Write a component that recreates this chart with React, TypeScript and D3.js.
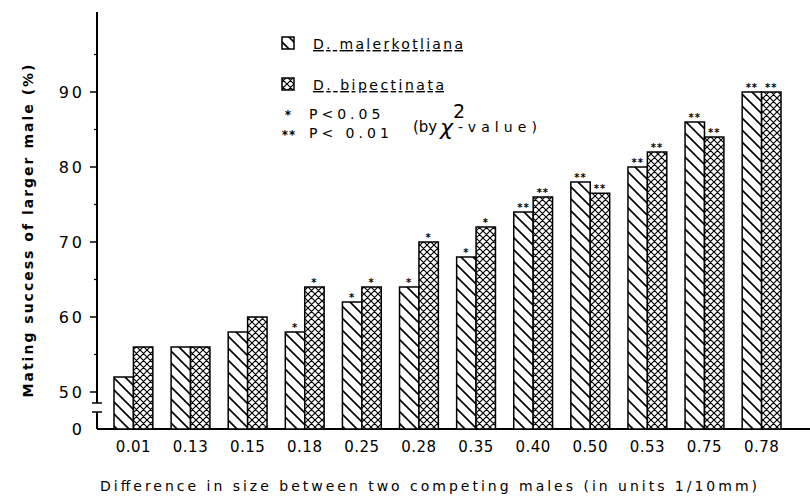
import React from 'react';
import { scaleBand, scaleLinear } from 'd3';

// size differences (1/10 mm)
const categories = ['0.01', '0.13', '0.15', '0.18', '0.25', '0.28', '0.35', '0.40', '0.50', '0.53', '0.75', '0.78'];
// mating success of larger male (%)
const malerkotliana = [52, 56, 58, 58, 62, 64, 68, 74, 78, 80, 86, 90];
const bipectinata = [56, 56, 60, 64, 64, 70, 72, 76, 76.5, 82, 84, 90];
// significance marks
const sigMaler = ['', '', '', '*', '*', '*', '*', '**', '**', '**', '**', '**'];
const sigBipec = ['', '', '', '*', '*', '*', '*', '**', '**', '**', '**', '**'];
const yTicks = [50, 60, 70, 80, 90];
const yMinor = [55, 65, 75, 85, 95];

const W = 810;
const H = 501;
const baseY = 429;
const axisX = 97;
const font = '"DejaVu Sans", sans-serif';

export default function App() {
  const x = scaleBand<string>().domain(categories).range([114, 781]).paddingInner(0.32).paddingOuter(0);
  const y = scaleLinear().domain([50, 90]).range([392, 92]);
  const bw = x.bandwidth() / 2;

  const series = [
    { values: malerkotliana, sig: sigMaler, fill: 'url(#hatch)', off: 0 },
    { values: bipectinata, sig: sigBipec, fill: 'url(#cross)', off: bw },
  ];

  return (
    <svg width={W} height={H} style={{ position: 'absolute', left: 0, top: 0, background: '#fff' }}>
      <defs>
        <pattern id="hatch" patternUnits="userSpaceOnUse" width={12} height={12}>
          <rect width={12} height={12} fill="#fff" />
          <path d="M0,0 L12,12 M-6,6 L6,18 M6,-6 L18,6" stroke="#000" strokeWidth={1.6} />
        </pattern>
        <pattern id="cross" patternUnits="userSpaceOnUse" width={7} height={7}>
          <rect width={7} height={7} fill="#fff" />
          <path d="M0,0 L7,7 M-3.5,3.5 L3.5,10.5 M3.5,-3.5 L10.5,3.5 M0,7 L7,0 M-3.5,3.5 L3.5,-3.5 M3.5,10.5 L10.5,3.5" stroke="#000" strokeWidth={1.2} />
        </pattern>
      </defs>

      {/* y axis with break */}
      <line x1={axisX} x2={axisX} y1={12} y2={403} stroke="#000" strokeWidth={2} />
      <line x1={axisX} x2={axisX} y1={412} y2={baseY} stroke="#000" strokeWidth={2} />
      <line x1={92} x2={102} y1={403} y2={403} stroke="#000" strokeWidth={1.5} />
      <line x1={92} x2={102} y1={412} y2={412} stroke="#000" strokeWidth={1.5} />
      {yTicks.map(t => (
        <g key={t}>
          <line x1={axisX - 7} x2={axisX} y1={y(t)} y2={y(t)} stroke="#000" strokeWidth={1.5} />
          <text x={85} y={y(t)} dy="0.36em" textAnchor="end" fontFamily={font} fontSize={16} letterSpacing={3}>{t}</text>
        </g>
      ))}
      {yMinor.map(t => (
        <line key={t} x1={axisX - 3} x2={axisX} y1={y(t)} y2={y(t)} stroke="#000" strokeWidth={1.2} />
      ))}
      <text x={82} y={baseY} dy="0.36em" textAnchor="end" fontFamily={font} fontSize={16}>0</text>

      {/* x axis */}
      <line x1={axisX} x2={W} y1={baseY} y2={baseY} stroke="#000" strokeWidth={2} />

      {/* bars */}
      {series.map((s, si) => (
        <g key={si}>
          {categories.map((c, i) => {
            const bx = (x(c) ?? 0) + s.off;
            const by = y(s.values[i]);
            return (
              <g key={c}>
                <rect x={bx} y={by} width={bw} height={baseY - by} fill={s.fill} stroke="#000" strokeWidth={1.5} />
                {s.sig[i] && (
                  <text x={bx + bw / 2} y={by - 1} textAnchor="middle" fontFamily={font} fontSize={10} fontWeight="bold" letterSpacing={1}>{s.sig[i]}</text>
                )}
              </g>
            );
          })}
        </g>
      ))}

      {/* x tick labels */}
      {categories.map(c => (
        <text key={c} x={(x(c) ?? 0) + x.bandwidth() / 2} y={452} textAnchor="middle" fontFamily={font} fontSize={15} letterSpacing={0.5}>{c}</text>
      ))}

      {/* axis titles */}
      <text x={100} y={491} textLength={657} lengthAdjust="spacing" fontFamily={font} fontSize={14}>
        Difference in size between two competing males (in units 1/10mm)
      </text>
      <text transform="translate(33,231) rotate(-90)" textAnchor="middle" textLength={333} lengthAdjust="spacing" fontFamily={font} fontSize={14} fontWeight="bold">
        Mating success of larger male (%)
      </text>

      {/* legend */}
      <rect x={282} y={37} width={12} height={12} fill="url(#hatch)" stroke="#000" strokeWidth={1.5} />
      <text x={313} y={49} textLength={150} lengthAdjust="spacing" fontFamily={font} fontSize={14} textDecoration="underline">D. malerkotliana</text>
      <rect x={282} y={78} width={12} height={12} fill="url(#cross)" stroke="#000" strokeWidth={1.5} />
      <text x={313} y={90} textLength={131} lengthAdjust="spacing" fontFamily={font} fontSize={14} textDecoration="underline">D. bipectinata</text>
      <text x={288} y={119} textAnchor="middle" fontFamily={font} fontSize={12} fontWeight="bold">*</text>
      <text x={289} y={139} textAnchor="middle" fontFamily={font} fontSize={12} fontWeight="bold" letterSpacing={1}>**</text>
      <text x={309} y={119} fontFamily={font} fontSize={14} letterSpacing={4}>P&lt;0.05</text>
      <text x={309} y={138} fontFamily={font} fontSize={14} letterSpacing={4}>P&lt; 0.01</text>
      <text x={413} y={132} fontFamily={font} fontSize={15}>(by</text>
      <text x={440} y={135} fontFamily={font} fontSize={22} fontStyle="italic">χ</text>
      <text x={453} y={118} fontFamily={font} fontSize={19}>2</text>
      <text x={458} y={132} textLength={79} lengthAdjust="spacing" fontFamily={font} fontSize={14}>-value)</text>
    </svg>
  );
}
